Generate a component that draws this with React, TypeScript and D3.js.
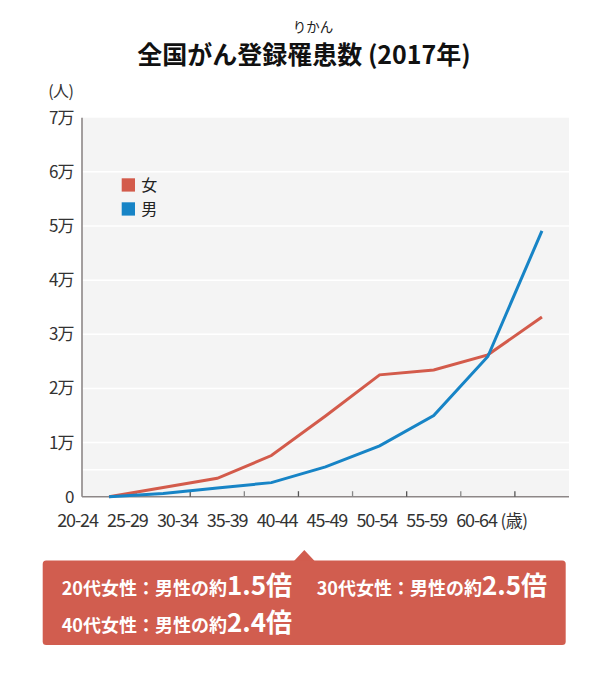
import React from "react";
import * as d3 from "d3";

const ageGroups = ["20-24", "25-29", "30-34", "35-39", "40-44", "45-49", "50-54", "55-59", "60-64"];
const female = [0, 1700, 3400, 7600, 14900, 22500, 23400, 26200, 33200];
const male = [0, 600, 1600, 2600, 5500, 9400, 15000, 25900, 49100];
const yTicks = [0, 10000, 20000, 30000, 40000, 50000, 60000, 70000];
const yTickLabels = ["0", "1万", "2万", "3万", "4万", "5万", "6万", "7万"];
const gridValues = [5000, 10000, 20000, 30000, 40000, 50000, 60000];
const legendItems = [
  { label: "女", key: "female" },
  { label: "男", key: "male" },
];
const calloutLines = [
  { small: "20代女性：男性の約", big: "1.5倍", row: 0, col: 0 },
  { small: "30代女性：男性の約", big: "2.5倍", row: 0, col: 1 },
  { small: "40代女性：男性の約", big: "2.4倍", row: 1, col: 0 },
];

const RED = "#d35b4b";
const BLUE = "#1784c6";
const BOX = "#d15d4f";
const FONT = "'Noto Sans CJK JP', 'Noto Sans', sans-serif";

export default function App() {
  const left = 82, right = 569, top = 117.7, bottom = 496.7;
  const x = d3.scaleBand<string>().domain(ageGroups).range([left, right]).padding(0);
  const xLabel = d3.scalePoint<string>().domain(ageGroups).range([77.5, 476.5]);
  const y = d3.scaleLinear().domain([0, 70000]).range([bottom, top]);
  const cx = (d: string) => (x(d) as number) + x.bandwidth() / 2;

  const line = d3
    .line<number>()
    .x((_, i) => cx(ageGroups[i]))
    .y((v) => y(v));

  const tickXs = ageGroups.slice(1).map((d) => x(d) as number);

  return (
    <svg
      width={610}
      height={676}
      style={{ position: "absolute", left: 0, top: 0, background: "#fff" }}
      fontFamily={FONT}
    >
      {/* title */}
      <text x={313} y={31.5} fontSize={13.5} textAnchor="middle" fill="#222">りかん</text>
      <text x={304} y={64} fontSize={25} fontWeight={700} textAnchor="middle" fill="#111">
        全国がん登録罹患数 (2017年)
      </text>

      {/* plot background */}
      <rect x={left} y={top} width={right - left} height={bottom - top} fill="#f4f4f4" />
      {gridValues.map((g) => (
        <line key={g} x1={left} x2={right} y1={y(g)} y2={y(g)} stroke="#ffffff" strokeWidth={1.5} />
      ))}

      {/* axes */}
      <line x1={left} x2={left} y1={top} y2={bottom} stroke="#8d8787" strokeWidth={1.6} />
      <line x1={left} x2={right} y1={bottom} y2={bottom} stroke="#8d8787" strokeWidth={1.6} />
      {tickXs.map((tx, i) => (
        <line key={i} x1={tx} x2={tx} y1={bottom} y2={bottom - 5.5} stroke={i % 2 ? "#555" : "#888"} strokeWidth={1.3} />
      ))}

      {/* y labels */}
      <text x={73.5} y={96.5} fontSize={16} textAnchor="end" fill="#333" letterSpacing={-0.5}>(人)</text>
      {yTicks.map((t, i) => (
        <text key={t} x={73.5} y={y(t) + 6} fontSize={17} textAnchor="end" fill="#333" letterSpacing={-1}>
          {yTickLabels[i]}
        </text>
      ))}

      {/* x labels */}
      {ageGroups.map((d) => (
        <text key={d} x={xLabel(d)} y={527} fontSize={18} textAnchor="middle" fill="#333" letterSpacing={-1.1}>
          {d}
        </text>
      ))}
      <text x={514} y={527} fontSize={17} textAnchor="middle" fill="#333" letterSpacing={-0.5}>(歳)</text>

      {/* lines */}
      <path d={line(female) || ""} fill="none" stroke={RED} strokeWidth={3} strokeLinejoin="miter" />
      <path d={line(male) || ""} fill="none" stroke={BLUE} strokeWidth={3} strokeLinejoin="miter" />

      {/* legend */}
      {legendItems.map((it, i) => (
        <g key={it.key} transform={`translate(121.7, ${178.3 + i * 24})`}>
          <rect width={13.3} height={13.3} fill={it.key === "female" ? RED : BLUE} />
          <text x={19.5} y={12.5} fontSize={16} fill="#222">{it.label}</text>
        </g>
      ))}

      {/* callout */}
      <path d="M294,561 L304.3,550 L314.6,561 Z" fill={BOX} />
      <rect x={42.7} y={560.5} width={523} height={84.5} rx={3.5} fill={BOX} />
      {calloutLines.map((c, i) => (
        <text
          key={i}
          x={c.col === 0 ? 61.7 : 316.7}
          y={c.row === 0 ? 595 : 631.5}
          fill="#fff"
          fontWeight={700}
        >
          <tspan fontSize={18}>{c.small}</tspan>
          <tspan fontSize={26}>{c.big}</tspan>
        </text>
      ))}
    </svg>
  );
}
